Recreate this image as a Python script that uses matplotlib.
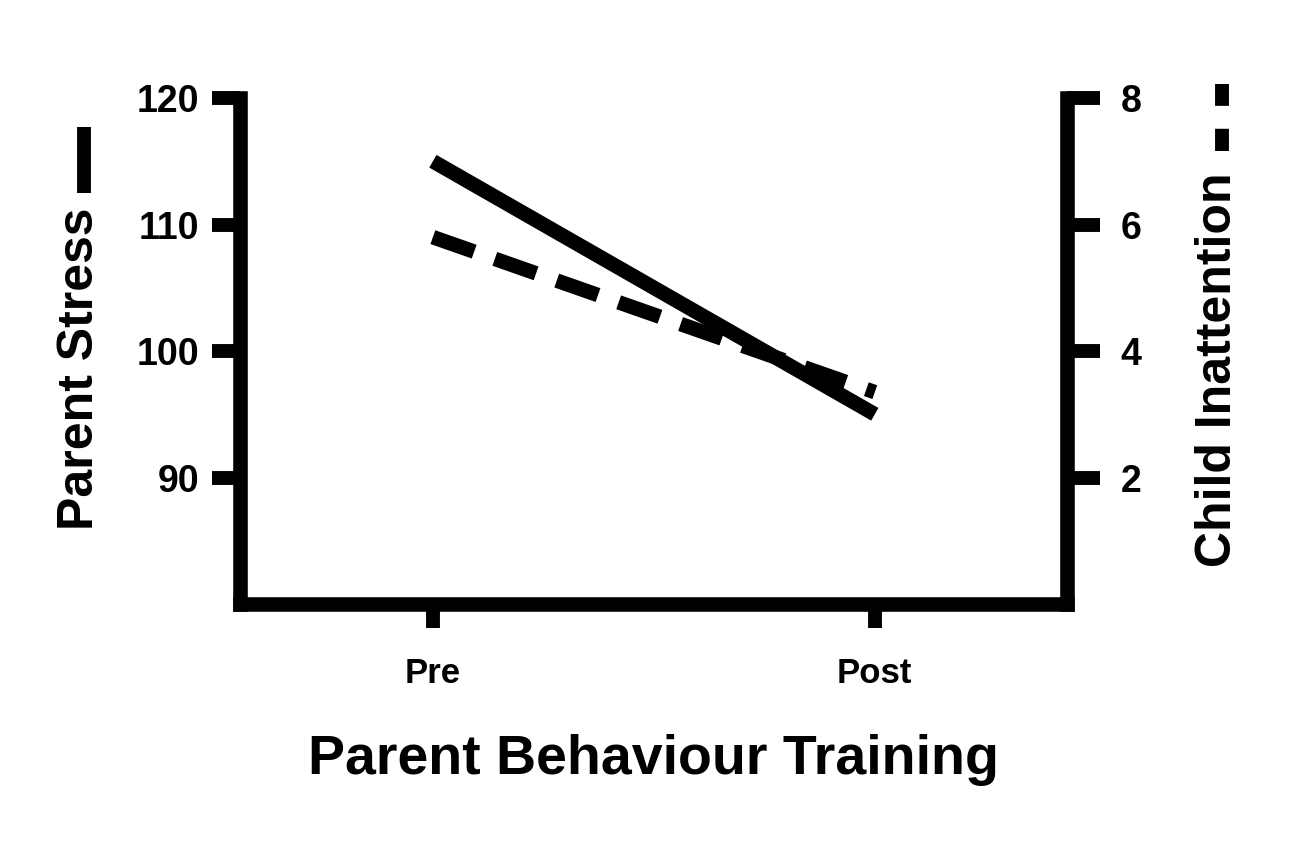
import numpy as np
import matplotlib
matplotlib.use("Agg")
import matplotlib.pyplot as plt
from matplotlib.lines import Line2D

plt.rcParams['font.family'] = ['Liberation Sans', 'DejaVu Sans']
plt.rcParams['font.weight'] = 'bold'
plt.rcParams['axes.labelweight'] = 'bold'

# data
phases = ['Pre', 'Post']
parent_stress = [115.0, 95.0]
child_inattention = [5.8, 3.35]
left_ticks = [90, 100, 110, 120]
right_ticks = [2, 4, 6, 8]

fig = plt.figure(figsize=(12.96, 8.52), dpi=100)
ax = fig.add_axes([0.185, 0.291, 0.638, 0.594])
ax2 = ax.twinx()

x = np.arange(len(phases))
ax.plot(x, parent_stress, color='black', lw=10.5, solid_capstyle='butt')
ax2.plot(x, child_inattention, color='black', lw=10.5, dashes=(3, 1.5),
         dash_capstyle='butt')

ax.set_xlim(-0.437, 1.434)
ax.set_ylim(80, 120)
ax2.set_ylim(0, 8)
ax.set_xticks(x)
ax.set_xticklabels(phases)
ax.set_yticks(left_ticks)
ax2.set_yticks(right_ticks)

for s in ['top', 'right']:
    ax.spines[s].set_visible(False)
for s in ['top', 'left', 'bottom']:
    ax2.spines[s].set_visible(False)
for a in (ax, ax2):
    for sp in a.spines.values():
        sp.set_linewidth(10.5)
        sp.set_capstyle('projecting')

ax.tick_params(axis='y', length=20, width=10, labelsize=27, pad=9)
ax.tick_params(axis='x', length=17, width=10, labelsize=25, pad=21)
ax2.tick_params(axis='y', length=24, width=10, labelsize=27, pad=15)

ax.set_xlabel('Parent Behaviour Training', fontsize=40, labelpad=32)

# y labels with small line keys
fig.text(80 / 1296, 1 - 530 / 852, 'Parent Stress', rotation=90,
         ha='center', va='bottom', fontsize=36)
fig.add_artist(Line2D([84 / 1296, 84 / 1296], [1 - 193 / 852, 1 - 127 / 852],
                      transform=fig.transFigure, color='black', lw=10,
                      solid_capstyle='butt'))
fig.text(1218 / 1296, 1 - 567 / 852, 'Child Inattention', rotation=90,
         ha='center', va='bottom', fontsize=36)
fig.add_artist(Line2D([1222 / 1296, 1222 / 1296], [1 - 151 / 852, 1 - 84 / 852],
                      transform=fig.transFigure, color='black', lw=10,
                      dashes=(1.6, 1.65), dash_capstyle='butt'))

fig.savefig('out.png', dpi=100, facecolor='white')
